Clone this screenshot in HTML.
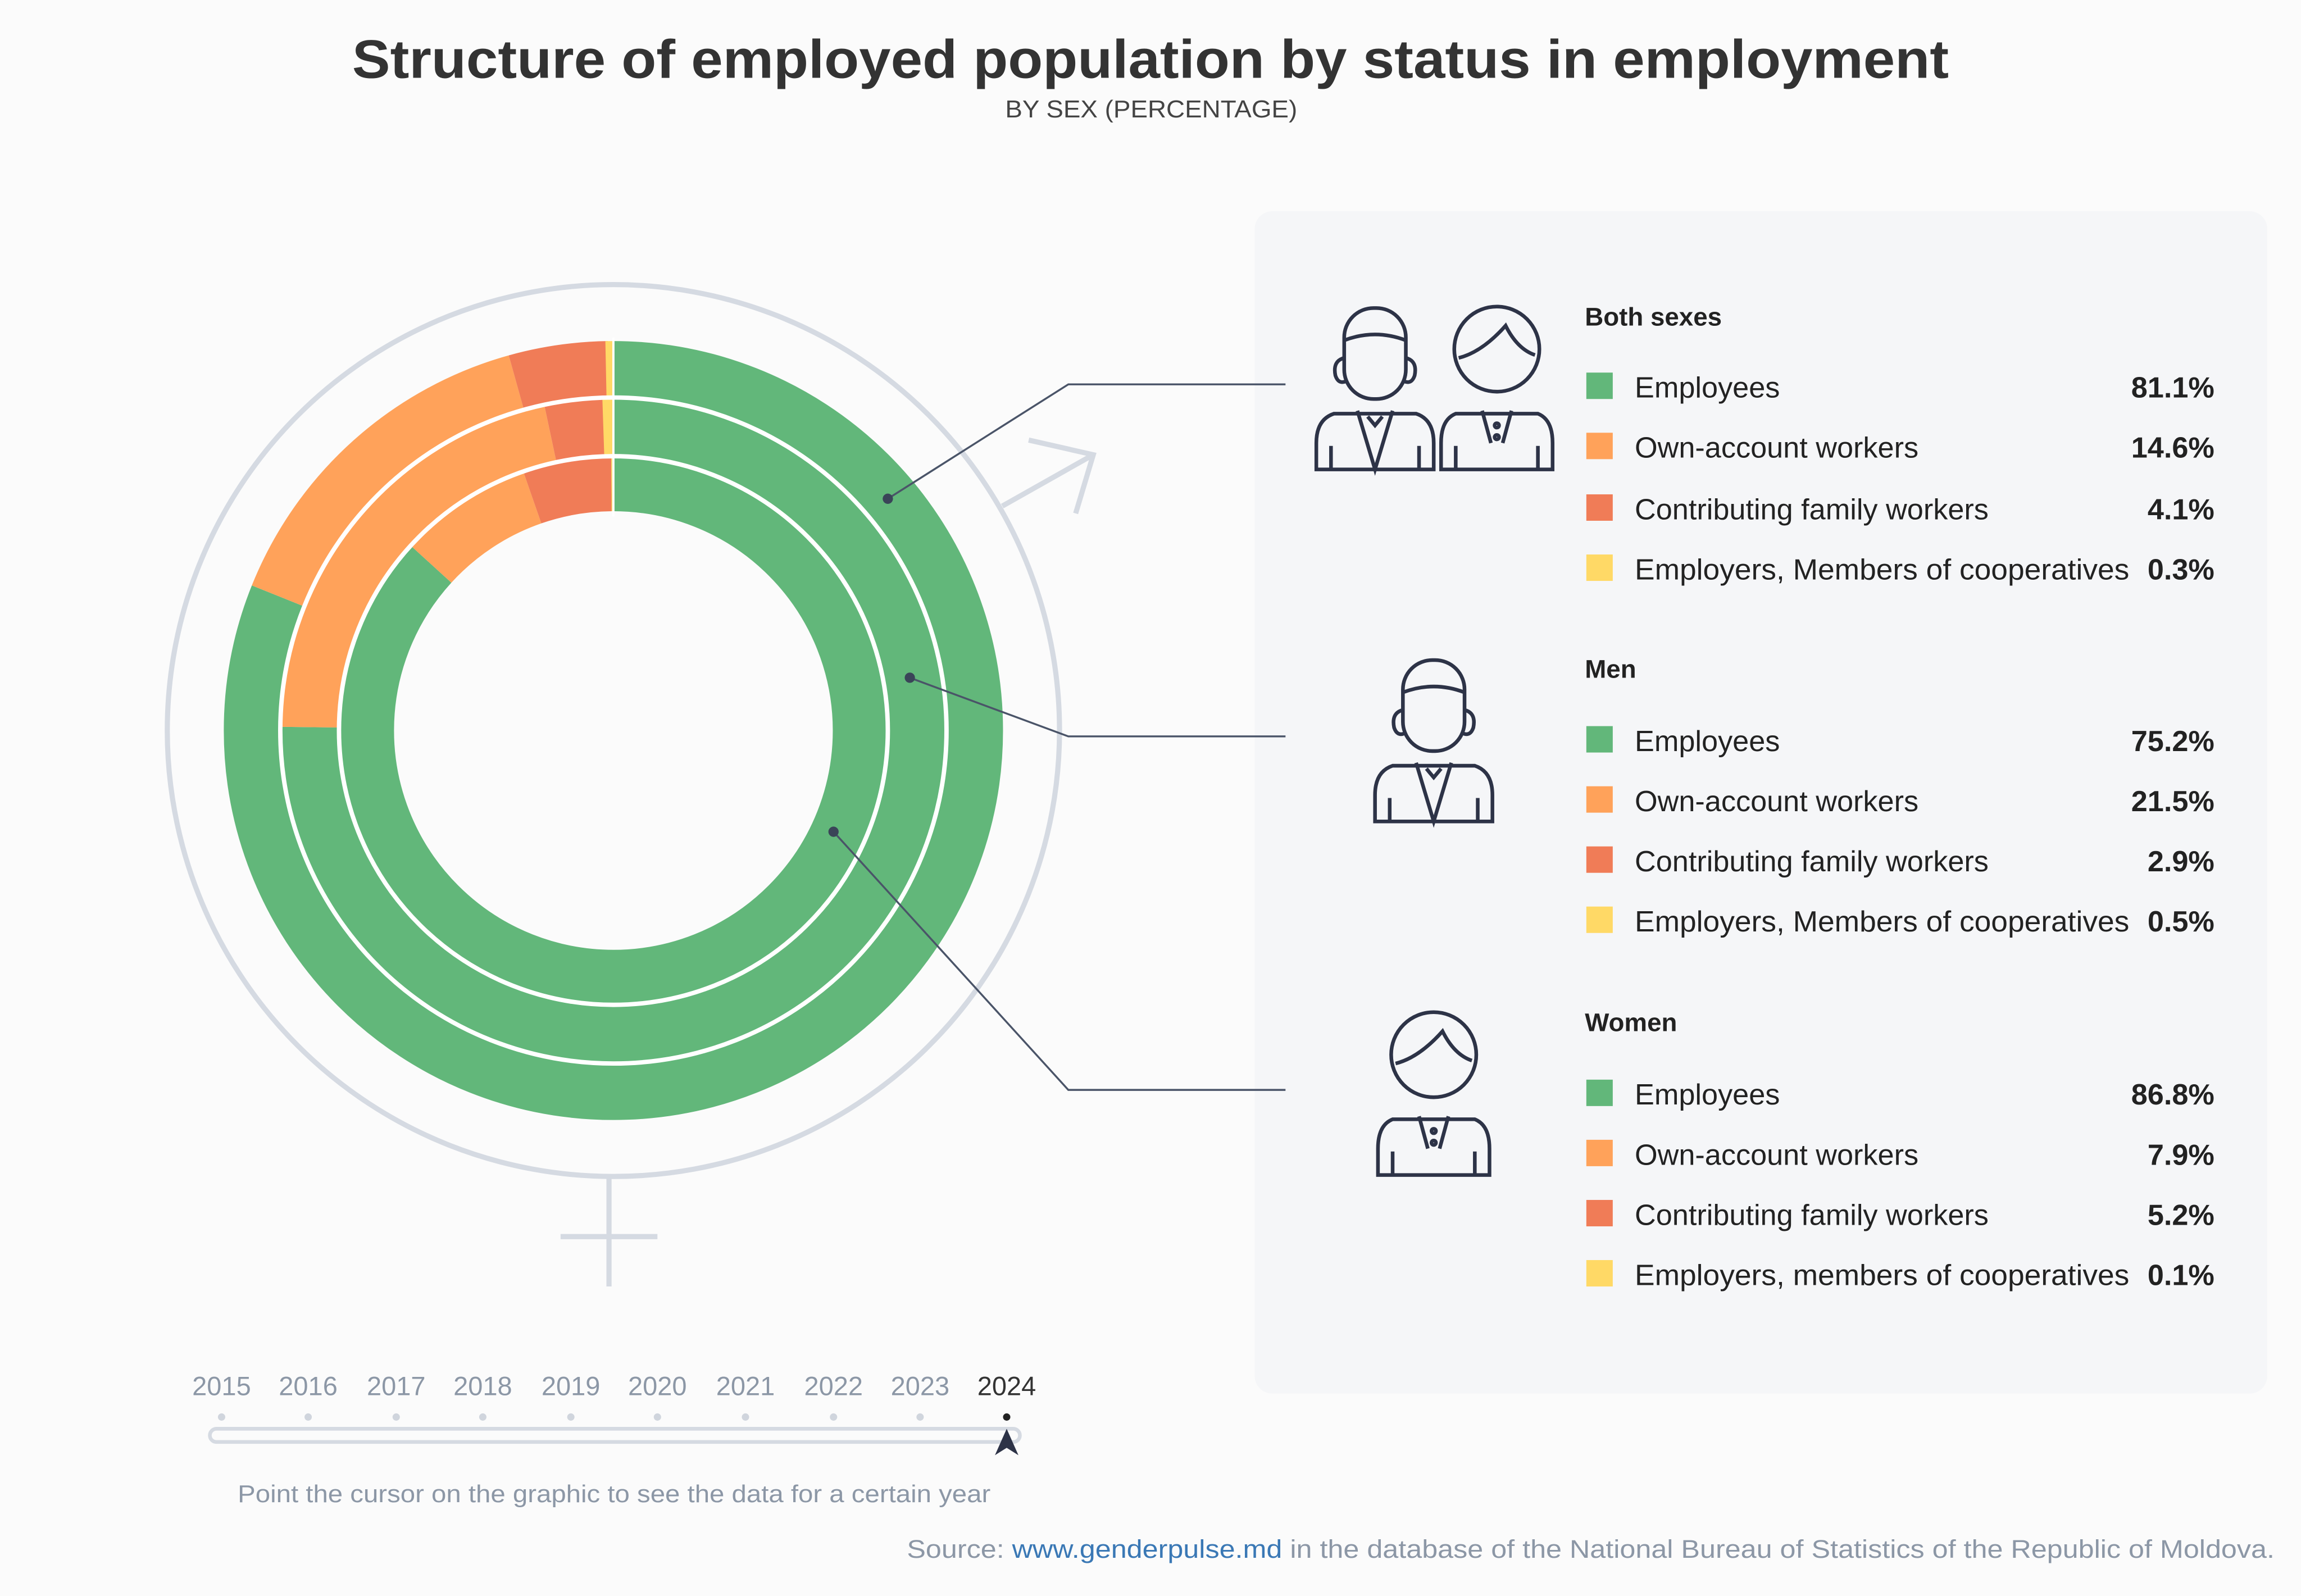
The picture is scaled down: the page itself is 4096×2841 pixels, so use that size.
<!DOCTYPE html>
<html><head><meta charset="utf-8"><style>
html,body{margin:0;padding:0;background:#fbfbfb}
svg{display:block}
text{font-family:"Liberation Sans",sans-serif}
</style></head><body>
<svg width="4096" height="2841" viewBox="0 0 1568 1088" preserveAspectRatio="none" xmlns="http://www.w3.org/2000/svg">
<rect width="1568" height="1088" fill="#fbfbfb"/>
<text x="240" y="53" font-size="37" font-weight="bold" fill="#333" textLength="1088" lengthAdjust="spacingAndGlyphs">Structure of employed population by status in employment</text>
<text x="685" y="80" font-size="16.5" fill="#444" textLength="199" lengthAdjust="spacingAndGlyphs">BY SEX (PERCENTAGE)</text>

<rect x="855" y="144" width="690" height="806" rx="12" fill="#f5f6f8"/>

<circle cx="418" cy="498" r="304" fill="none" stroke="#d5dae2" stroke-width="3.5"/>
<g stroke="#d5dae2" stroke-width="3.5" fill="none">
<line x1="683" y1="345" x2="745" y2="310"/>
<polyline points="701,300 745,310 733,350"/>
<line x1="415" y1="803" x2="415" y2="877"/>
<line x1="382" y1="843" x2="448" y2="843"/>
</g>

<g fill="none" transform="rotate(-90 418 498)">
<circle cx="418" cy="498" r="246.5" stroke-width="38" pathLength="100" stroke="#62b77a" stroke-dasharray="81.1 200"/>
<circle cx="418" cy="498" r="246.5" stroke-width="38" pathLength="100" stroke="#ffa25a" stroke-dasharray="14.6 200" stroke-dashoffset="-81.1"/>
<circle cx="418" cy="498" r="246.5" stroke-width="38" pathLength="100" stroke="#f07c57" stroke-dasharray="4.1 200" stroke-dashoffset="-95.7"/>
<circle cx="418" cy="498" r="246.5" stroke-width="38" pathLength="100" stroke="#ffd966" stroke-dasharray="0.3 200" stroke-dashoffset="-99.7"/>
<circle cx="418" cy="498" r="207" stroke-width="39" pathLength="100" stroke="#62b77a" stroke-dasharray="75.2 200"/>
<circle cx="418" cy="498" r="207" stroke-width="39" pathLength="100" stroke="#ffa25a" stroke-dasharray="21.5 200" stroke-dashoffset="-75.2"/>
<circle cx="418" cy="498" r="207" stroke-width="39" pathLength="100" stroke="#f07c57" stroke-dasharray="2.9 200" stroke-dashoffset="-96.7"/>
<circle cx="418" cy="498" r="207" stroke-width="39" pathLength="100" stroke="#ffd966" stroke-dasharray="0.5 200" stroke-dashoffset="-99.5"/>
<circle cx="418" cy="498" r="168" stroke-width="37" pathLength="100" stroke="#62b77a" stroke-dasharray="86.8 200"/>
<circle cx="418" cy="498" r="168" stroke-width="37" pathLength="100" stroke="#ffa25a" stroke-dasharray="7.9 200" stroke-dashoffset="-86.8"/>
<circle cx="418" cy="498" r="168" stroke-width="37" pathLength="100" stroke="#f07c57" stroke-dasharray="5.2 200" stroke-dashoffset="-94.7"/>
<circle cx="418" cy="498" r="168" stroke-width="37" pathLength="100" stroke="#ffd966" stroke-dasharray="0.1 200" stroke-dashoffset="-99.9"/>
</g>
<circle cx="418" cy="498" r="227" fill="none" stroke="#fff" stroke-width="3"/>
<circle cx="418" cy="498" r="187" fill="none" stroke="#fff" stroke-width="3"/>
<line x1="418" y1="230" x2="418" y2="352" stroke="#fff" stroke-width="1.5"/>

<g stroke="#4a5468" stroke-width="1.3" fill="none">
<polyline points="605,340 728,262 876,262"/>
<polyline points="620,462 728,502 876,502"/>
<polyline points="568,567 728,743 876,743"/>
</g>
<g fill="#3a4458"><circle cx="605" cy="340" r="3.5"/><circle cx="620" cy="462" r="3.5"/><circle cx="568" cy="567" r="3.5"/></g>

<defs>
<g id="man" fill="none" stroke="#2d3347" stroke-width="2.5">
<path d="M-28,20 Q-40,24 -40,40 L-40,58 L40,58 L40,40 Q40,24 28,20 Z"/>
<path d="M-12,18 L0,58 L12,18"/><path d="M-5,22 L0,28 L5,22"/>
<line x1="-30" y1="42" x2="-30" y2="58"/><line x1="30" y1="42" x2="30" y2="58"/>
<rect x="-21" y="-52" width="42" height="62" rx="20"/>
<path d="M-21,-30 Q0,-38 21,-30"/>
<path d="M-21,-18 Q-29,-16 -27,-6 Q-25,0 -20,-2 M21,-18 Q29,-16 27,-6 Q25,0 20,-2"/>
</g>
<g id="woman" fill="none" stroke="#2d3347" stroke-width="2.5">
<path d="M-28,20 Q-38,24 -38,40 L-38,58 L38,58 L38,40 Q38,24 28,20 Z"/>
<path d="M-10,18 L-4,40 M10,18 L4,40"/>
<circle cx="0" cy="28" r="1.5"/><circle cx="0" cy="36" r="1.5"/>
<line x1="-28" y1="42" x2="-28" y2="58"/><line x1="28" y1="42" x2="28" y2="58"/>
<circle cx="0" cy="-24" r="29"/>
<path d="M-26,-18 Q-10,-22 6,-40 Q14,-24 26,-20"/>
</g>
</defs>
<use href="#man" x="937" y="262"/>
<use href="#woman" x="1020" y="262"/>
<use href="#man" x="977" y="502"/>
<use href="#woman" x="977" y="743"/>

<g font-size="20" fill="#222">
<text x="1080" y="222" font-size="17.5" font-weight="bold">Both sexes</text>
<rect x="1081" y="254" width="18" height="18" fill="#62b77a"/><text x="1114" y="271">Employees</text><text x="1509" y="271" text-anchor="end" font-weight="bold">81.1%</text>
<rect x="1081" y="295" width="18" height="18" fill="#ffa25a"/><text x="1114" y="312">Own-account workers</text><text x="1509" y="312" text-anchor="end" font-weight="bold">14.6%</text>
<rect x="1081" y="337" width="18" height="18" fill="#f07c57"/><text x="1114" y="354">Contributing family workers</text><text x="1509" y="354" text-anchor="end" font-weight="bold">4.1%</text>
<rect x="1081" y="378" width="18" height="18" fill="#ffd966"/><text x="1114" y="395" textLength="337" lengthAdjust="spacingAndGlyphs">Employers, Members of cooperatives</text><text x="1509" y="395" text-anchor="end" font-weight="bold">0.3%</text>

<text x="1080" y="462" font-size="17.5" font-weight="bold">Men</text>
<rect x="1081" y="495" width="18" height="18" fill="#62b77a"/><text x="1114" y="512">Employees</text><text x="1509" y="512" text-anchor="end" font-weight="bold">75.2%</text>
<rect x="1081" y="536" width="18" height="18" fill="#ffa25a"/><text x="1114" y="553">Own-account workers</text><text x="1509" y="553" text-anchor="end" font-weight="bold">21.5%</text>
<rect x="1081" y="577" width="18" height="18" fill="#f07c57"/><text x="1114" y="594">Contributing family workers</text><text x="1509" y="594" text-anchor="end" font-weight="bold">2.9%</text>
<rect x="1081" y="618" width="18" height="18" fill="#ffd966"/><text x="1114" y="635" textLength="337" lengthAdjust="spacingAndGlyphs">Employers, Members of cooperatives</text><text x="1509" y="635" text-anchor="end" font-weight="bold">0.5%</text>

<text x="1080" y="703" font-size="17.5" font-weight="bold">Women</text>
<rect x="1081" y="736" width="18" height="18" fill="#62b77a"/><text x="1114" y="753">Employees</text><text x="1509" y="753" text-anchor="end" font-weight="bold">86.8%</text>
<rect x="1081" y="777" width="18" height="18" fill="#ffa25a"/><text x="1114" y="794">Own-account workers</text><text x="1509" y="794" text-anchor="end" font-weight="bold">7.9%</text>
<rect x="1081" y="818" width="18" height="18" fill="#f07c57"/><text x="1114" y="835">Contributing family workers</text><text x="1509" y="835" text-anchor="end" font-weight="bold">5.2%</text>
<rect x="1081" y="859" width="18" height="18" fill="#ffd966"/><text x="1114" y="876" textLength="337" lengthAdjust="spacingAndGlyphs">Employers, members of cooperatives</text><text x="1509" y="876" text-anchor="end" font-weight="bold">0.1%</text>
</g>

<g font-size="18" fill="#8c97a6" text-anchor="middle">
<text x="151" y="951">2015</text><text x="210" y="951">2016</text><text x="270" y="951">2017</text><text x="329" y="951">2018</text><text x="389" y="951">2019</text><text x="448" y="951">2020</text><text x="508" y="951">2021</text><text x="568" y="951">2022</text><text x="627" y="951">2023</text><text x="686" y="951" fill="#333">2024</text>
</g>
<g fill="#d0d5dd">
<circle cx="151" cy="966" r="2.5"/><circle cx="210" cy="966" r="2.5"/><circle cx="270" cy="966" r="2.5"/><circle cx="329" cy="966" r="2.5"/><circle cx="389" cy="966" r="2.5"/><circle cx="448" cy="966" r="2.5"/><circle cx="508" cy="966" r="2.5"/><circle cx="568" cy="966" r="2.5"/><circle cx="627" cy="966" r="2.5"/>
</g>
<circle cx="686" cy="966" r="2.5" fill="#222"/>
<rect x="143" y="974" width="552" height="9" rx="4.5" fill="#fbfbfb" stroke="#d5dae2" stroke-width="2.5"/>
<path d="M686,974 L694,992 L686,987 L678,992 Z" fill="#2d3347"/>
<text x="162" y="1024" font-size="16.5" fill="#8c97a6" textLength="513" lengthAdjust="spacingAndGlyphs">Point the cursor on the graphic to see the data for a certain year</text>
<text x="618" y="1062" font-size="17.5" fill="#8c97a6" textLength="932" lengthAdjust="spacingAndGlyphs">Source: <tspan fill="#3a78b5">www.genderpulse.md</tspan> in the database of the National Bureau of Statistics of the Republic of Moldova.</text>
</svg>
</body></html>
